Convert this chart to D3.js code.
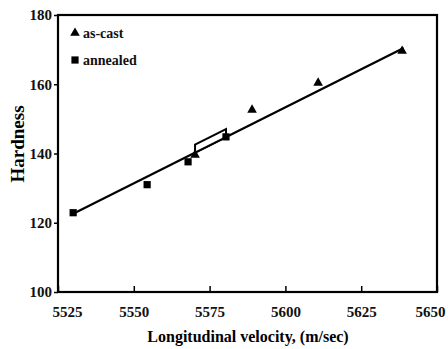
<!DOCTYPE html>
<html><head><meta charset="utf-8">
<script src="https://cdn.jsdelivr.net/npm/d3@7"></script>
<style>body{margin:0;background:#fff}svg{display:block}</style>
</head><body>
<script>
const xTicks = [5525, 5550, 5575, 5600, 5625, 5650];
const yTicks = [100, 120, 140, 160, 180];
const asCastX = [5570.2, 5589, 5610.8, 5638.5];
const asCastY = [139.6, 152.6, 160.4, 169.6];
const annealedX = [5530, 5554.4, 5567.9, 5580.4];
const annealedY = [122.9, 131, 137.6, 144.8];
const fitX = [5530, 5639];
const fitY = [122.6, 170.5];
const boxX = [5570.2, 5580.4];
const boxOffset = 2.3;

const W = 448, H = 349;
const m = {left: 58, right: 11, top: 15, bottom: 57};
const svg = d3.select("body").append("svg").attr("width", W).attr("height", H);
const x = d3.scaleLinear().domain([5525, 5650]).range([m.left, W - m.right]);
const y = d3.scaleLinear().domain([100, 180]).range([H - m.bottom, m.top]);
const font = "'Liberation Serif', 'Times New Roman', serif";

// frame
svg.append("rect").attr("x", x(5525)).attr("y", y(180))
  .attr("width", x(5650) - x(5525)).attr("height", y(100) - y(180))
  .attr("fill", "none").attr("stroke", "#000").attr("stroke-width", 2.2);

// x axis
const xa = svg.append("g").attr("transform", `translate(0,${y(100)})`)
  .call(d3.axisBottom(x).tickValues(xTicks).tickFormat(d3.format("d")).tickSizeInner(-6).tickSizeOuter(0).tickPadding(14));
xa.attr("font-family", null);
xa.select(".domain").remove();
xa.selectAll("line").attr("stroke-width", 1.5);
xa.selectAll("text").style("font-family", font).style("font-size", "15px").style("font-weight", "bold").attr("fill", "#111")
  .attr("dx", (d, i) => i === 0 ? 9 : (i === xTicks.length - 1 ? -7 : 0));

// y axis
const ya = svg.append("g").attr("transform", `translate(${x(5525)},0)`)
  .call(d3.axisLeft(y).tickValues(yTicks).tickFormat(d3.format("d")).tickSizeInner(4).tickSizeOuter(0).tickPadding(2));
ya.attr("font-family", null);
ya.select(".domain").remove();
ya.selectAll("line").attr("stroke-width", 1.5);
ya.selectAll("text").style("font-family", font).style("font-size", "15px").style("font-weight", "bold").attr("fill", "#111");

// fit line
svg.append("line").attr("x1", x(fitX[0])).attr("y1", y(fitY[0])).attr("x2", x(fitX[1])).attr("y2", y(fitY[1]))
  .attr("stroke", "#000").attr("stroke-width", 2.2);

// open box along line
const lineAt = v => fitY[0] + (fitY[1] - fitY[0]) * (v - fitX[0]) / (fitX[1] - fitX[0]);
const boxPts = [[boxX[0], lineAt(boxX[0])], [boxX[1], lineAt(boxX[1])],
  [boxX[1], lineAt(boxX[1]) + boxOffset], [boxX[0], lineAt(boxX[0]) + boxOffset]];
svg.append("polygon").attr("points", boxPts.map(p => [x(p[0]), y(p[1])].join(",")).join(" "))
  .attr("fill", "#fff").attr("stroke", "#000").attr("stroke-width", 2);

// markers
const tri = d3.symbol().type(d3.symbolTriangle).size(40);
const sq = d3.symbol().type(d3.symbolSquare).size(52);
svg.append("g").selectAll("path").data(annealedX).join("path")
  .attr("d", sq).attr("transform", (d, i) => `translate(${x(d)},${y(annealedY[i])})`).attr("fill", "#000");
svg.append("g").selectAll("path").data(asCastX).join("path")
  .attr("d", tri).attr("transform", (d, i) => `translate(${x(d)},${y(asCastY[i])})`).attr("fill", "#000");

// legend
const lg = svg.append("g");
lg.append("path").attr("d", tri).attr("transform", "translate(75,33)");
lg.append("text").attr("x", 83).attr("y", 38).text("as-cast");
lg.append("path").attr("d", sq).attr("transform", "translate(75,60)");
lg.append("text").attr("x", 83).attr("y", 65).text("annealed");
lg.selectAll("text").style("font-family", font).style("font-size", "14px").style("font-weight", "bold").attr("fill", "#111");

// axis titles
svg.append("text").attr("x", 248).attr("y", 342).attr("text-anchor", "middle")
  .style("font-family", font).style("font-size", "16px").style("font-weight", "bold").text("Longitudinal velocity, (m/sec)");
svg.append("text").attr("transform", "translate(24,144) rotate(-90)").attr("text-anchor", "middle")
  .style("font-family", font).style("font-size", "19px").style("font-weight", "bold").text("Hardness");
</script>
</body></html>
